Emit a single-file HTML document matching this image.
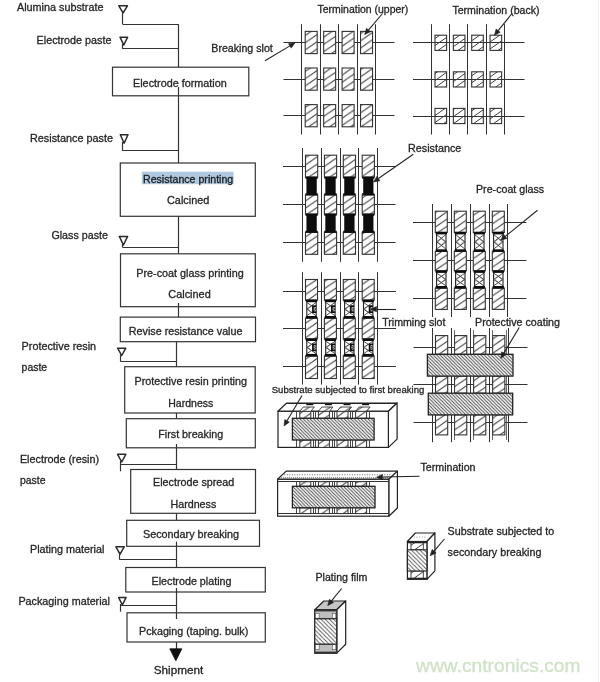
<!DOCTYPE html>
<html><head><meta charset="utf-8"><style>
html,body{margin:0;padding:0;background:#fff;}
body{width:600px;height:682px;overflow:hidden;}
svg{display:block;font-family:"Liberation Sans",sans-serif;}
</style></head><body>
<svg width="600" height="682" viewBox="0 0 600 682">
<rect width="600" height="682" fill="#fff"/>

<defs>
<pattern id="h" patternUnits="userSpaceOnUse" width="10.5" height="7.2">
<rect width="10.5" height="7.2" fill="#fff"/>
<path d="M-1.46,8.2 L11.96,-1 M-1.46,1 L1.46,-1 M9.04,8.2 L11.96,6.2" stroke="#404040" stroke-width="1"/>
</pattern>
<pattern id="hs" patternUnits="userSpaceOnUse" width="10" height="7">
<path d="M-1.43,8 L11.43,-1 M-1.43,1 L1.43,-1 M8.57,8 L11.43,6" stroke="#404040" stroke-width="1"/>
</pattern>
<pattern id="d" patternUnits="userSpaceOnUse" width="3.4" height="3.4">
<rect width="3.4" height="3.4" fill="#fff"/>
<path d="M-1,-1 L4.4,4.4 M2.4,-1 L4.4,1 M-1,2.4 L1,4.4" stroke="#444" stroke-width="0.95"/>
</pattern>
<filter id="gray" x="0" y="0" width="600" height="682" filterUnits="userSpaceOnUse"><feColorMatrix type="saturate" values="0"/><feGaussianBlur stdDeviation="0.4"/></filter>
<pattern id="d2" patternUnits="userSpaceOnUse" width="4.2" height="4.2">
<rect width="4.2" height="4.2" fill="#fff"/>
<path d="M-1,-1 L5.2,5.2 M3.2,-1 L5.2,1 M-1,3.2 L1,5.2" stroke="#555" stroke-width="0.9"/>
</pattern>
</defs>
<g filter="url(#gray)"><line x1="178.5" y1="24.2" x2="178.5" y2="67.2" stroke="#333" stroke-width="1.2"/><line x1="178.5" y1="95.8" x2="178.5" y2="163" stroke="#333" stroke-width="1.2"/><line x1="178.5" y1="216.3" x2="178.5" y2="253.7" stroke="#333" stroke-width="1.2"/><line x1="178.5" y1="306.7" x2="178.5" y2="317" stroke="#333" stroke-width="1.2"/><line x1="176.5" y1="341.7" x2="176.5" y2="366.7" stroke="#333" stroke-width="1.2"/><line x1="176.5" y1="413" x2="176.5" y2="418.7" stroke="#333" stroke-width="1.2"/><line x1="176.5" y1="447.8" x2="176.5" y2="469.5" stroke="#333" stroke-width="1.2"/><line x1="176.5" y1="513.3" x2="176.5" y2="520.3" stroke="#333" stroke-width="1.2"/><line x1="176.5" y1="546.3" x2="176.5" y2="567.5" stroke="#333" stroke-width="1.2"/><line x1="176.5" y1="592" x2="176.5" y2="612.8" stroke="#333" stroke-width="1.2"/><line x1="176.5" y1="642" x2="176.5" y2="649" stroke="#333" stroke-width="1.2"/><polygon points="169.8,648.8 181.9,648.8 175.85,660.8" fill="#111" stroke="#111" stroke-width="0.8" stroke-linejoin="round"/><rect x="112.5" y="67.2" width="136.3" height="28.6" fill="#fff" stroke="#333" stroke-width="1.2"/><rect x="120.3" y="163" width="135" height="53.3" fill="#fff" stroke="#333" stroke-width="1.2"/><rect x="120.5" y="253.8" width="134.8" height="52.9" fill="#fff" stroke="#333" stroke-width="1.2"/><rect x="120.3" y="317.1" width="135.2" height="24.6" fill="#fff" stroke="#333" stroke-width="1.2"/><rect x="124.7" y="366.7" width="130.5" height="46.3" fill="#fff" stroke="#333" stroke-width="1.2"/><rect x="126.3" y="418.7" width="129" height="29.1" fill="#fff" stroke="#333" stroke-width="1.2"/><rect x="130.7" y="469.5" width="124.8" height="43.8" fill="#fff" stroke="#333" stroke-width="1.2"/><rect x="126.7" y="520.3" width="132.8" height="26" fill="#fff" stroke="#333" stroke-width="1.2"/><rect x="125.8" y="567.5" width="139.5" height="24.5" fill="#fff" stroke="#333" stroke-width="1.2"/><rect x="127" y="612.8" width="138.3" height="29.2" fill="#fff" stroke="#333" stroke-width="1.2"/><line x1="178.5" y1="87" x2="178.5" y2="95.8" stroke="#333" stroke-width="1.2"/><line x1="178.5" y1="303" x2="178.5" y2="306.7" stroke="#333" stroke-width="1.2"/><line x1="176.5" y1="444" x2="176.5" y2="447.8" stroke="#333" stroke-width="1.2"/><line x1="176.5" y1="541.7" x2="176.5" y2="546.3" stroke="#333" stroke-width="1.2"/><line x1="176.5" y1="588" x2="176.5" y2="592" stroke="#333" stroke-width="1.2"/><line x1="176.5" y1="612.8" x2="176.5" y2="619" stroke="#333" stroke-width="1.2"/><polygon points="118.8,5.8 127.4,5.8 123.1,12.8" fill="none" stroke="#2a2a2a" stroke-width="1.5" stroke-linejoin="round"/><line x1="122.5" y1="12.8" x2="122.5" y2="24.2" stroke="#333" stroke-width="1.2"/><line x1="122.6" y1="24.5" x2="178.6" y2="24.5" stroke="#333" stroke-width="1.2"/><polygon points="120,37.2 127.6,37.2 123.8,45" fill="none" stroke="#2a2a2a" stroke-width="1.5" stroke-linejoin="round"/><line x1="122.5" y1="44" x2="122.5" y2="48.8" stroke="#333" stroke-width="1.2"/><line x1="122.6" y1="48.5" x2="178.6" y2="48.5" stroke="#333" stroke-width="1.2"/><polygon points="120.3,134.8 128,134.8 124.15,143.3" fill="none" stroke="#2a2a2a" stroke-width="1.5" stroke-linejoin="round"/><line x1="122.5" y1="142" x2="122.5" y2="150.5" stroke="#333" stroke-width="1.2"/><line x1="122" y1="150.5" x2="178.6" y2="150.5" stroke="#333" stroke-width="1.2"/><polygon points="119.3,236.4 127.6,236.4 123.45,245" fill="none" stroke="#2a2a2a" stroke-width="1.5" stroke-linejoin="round"/><line x1="122.5" y1="244" x2="122.5" y2="247.2" stroke="#333" stroke-width="1.2"/><line x1="122.5" y1="247.5" x2="178.6" y2="247.5" stroke="#333" stroke-width="1.2"/><polygon points="117.6,348.2 125.8,348.2 121.7,355.5" fill="none" stroke="#2a2a2a" stroke-width="1.5" stroke-linejoin="round"/><line x1="120.5" y1="354.5" x2="120.5" y2="361.2" stroke="#333" stroke-width="1.2"/><line x1="120.2" y1="361.5" x2="176.6" y2="361.5" stroke="#333" stroke-width="1.2"/><polygon points="117.6,454.3 125.8,454.3 121.7,462" fill="none" stroke="#2a2a2a" stroke-width="1.5" stroke-linejoin="round"/><line x1="120.5" y1="461" x2="120.5" y2="471.3" stroke="#333" stroke-width="1.2"/><line x1="120.4" y1="464.5" x2="176.6" y2="464.5" stroke="#333" stroke-width="1.2"/><polygon points="115.9,546.8 124.2,546.8 120.05,554.2" fill="none" stroke="#2a2a2a" stroke-width="1.5" stroke-linejoin="round"/><line x1="119.5" y1="553" x2="119.5" y2="559.7" stroke="#333" stroke-width="1.2"/><line x1="119.8" y1="559.5" x2="176.6" y2="559.5" stroke="#333" stroke-width="1.2"/><polygon points="118.7,597.6 126,597.6 122.35,605" fill="none" stroke="#2a2a2a" stroke-width="1.5" stroke-linejoin="round"/><line x1="120.5" y1="604" x2="120.5" y2="611.7" stroke="#333" stroke-width="1.2"/><line x1="120.6" y1="605.5" x2="176.6" y2="605.5" stroke="#333" stroke-width="1.2"/><text x="17" y="11" font-size="10.8" textLength="86.4" lengthAdjust="spacingAndGlyphs" fill="#262626" stroke="#262626" stroke-width="0.3">Alumina substrate</text><text x="36.6" y="44.4" font-size="10.8" textLength="74.8" lengthAdjust="spacingAndGlyphs" fill="#262626" stroke="#262626" stroke-width="0.3">Electrode paste</text><text x="30" y="142.4" font-size="10.8" textLength="83" lengthAdjust="spacingAndGlyphs" fill="#262626" stroke="#262626" stroke-width="0.3">Resistance paste</text><text x="51.4" y="238.6" font-size="10.8" textLength="56.6" lengthAdjust="spacingAndGlyphs" fill="#262626" stroke="#262626" stroke-width="0.3">Glass paste</text><text x="21.6" y="349.5" font-size="10.8" textLength="74.5" lengthAdjust="spacingAndGlyphs" fill="#262626" stroke="#262626" stroke-width="0.3">Protective resin</text><text x="21.6" y="371" font-size="10.8" textLength="25.6" lengthAdjust="spacingAndGlyphs" fill="#262626" stroke="#262626" stroke-width="0.3">paste</text><text x="19.9" y="463.1" font-size="10.8" textLength="79.2" lengthAdjust="spacingAndGlyphs" fill="#262626" stroke="#262626" stroke-width="0.3">Electrode (resin)</text><text x="19.9" y="484.2" font-size="10.8" textLength="25.6" lengthAdjust="spacingAndGlyphs" fill="#262626" stroke="#262626" stroke-width="0.3">paste</text><text x="30" y="553" font-size="10.8" textLength="74.4" lengthAdjust="spacingAndGlyphs" fill="#262626" stroke="#262626" stroke-width="0.3">Plating material</text><text x="18.4" y="604.6" font-size="10.8" textLength="91.6" lengthAdjust="spacingAndGlyphs" fill="#262626" stroke="#262626" stroke-width="0.3">Packaging material</text><text x="133" y="87" font-size="10.8" textLength="93.75" lengthAdjust="spacingAndGlyphs" fill="#262626" stroke="#262626" stroke-width="0.3">Electrode formation</text><text x="143" y="182.5" font-size="10.8" textLength="90.25" lengthAdjust="spacingAndGlyphs" fill="#262626" stroke="#262626" stroke-width="0.3">Resistance printing</text><text x="167" y="203.75" font-size="10.8" textLength="42.25" lengthAdjust="spacingAndGlyphs" fill="#262626" stroke="#262626" stroke-width="0.3">Calcined</text><text x="136.25" y="276.75" font-size="10.8" textLength="107.5" lengthAdjust="spacingAndGlyphs" fill="#262626" stroke="#262626" stroke-width="0.3">Pre-coat glass printing</text><text x="168.25" y="298.25" font-size="10.8" textLength="42.5" lengthAdjust="spacingAndGlyphs" fill="#262626" stroke="#262626" stroke-width="0.3">Calcined</text><text x="128.75" y="334.5" font-size="10.8" textLength="113.75" lengthAdjust="spacingAndGlyphs" fill="#262626" stroke="#262626" stroke-width="0.3">Revise resistance value</text><text x="134.5" y="385" font-size="10.8" textLength="112.5" lengthAdjust="spacingAndGlyphs" fill="#262626" stroke="#262626" stroke-width="0.3">Protective resin printing</text><text x="168.25" y="406.75" font-size="10.8" textLength="45" lengthAdjust="spacingAndGlyphs" fill="#262626" stroke="#262626" stroke-width="0.3">Hardness</text><text x="158.25" y="438" font-size="10.8" textLength="65" lengthAdjust="spacingAndGlyphs" fill="#262626" stroke="#262626" stroke-width="0.3">First breaking</text><text x="153" y="486.25" font-size="10.8" textLength="81.25" lengthAdjust="spacingAndGlyphs" fill="#262626" stroke="#262626" stroke-width="0.3">Electrode spread</text><text x="170.5" y="507.5" font-size="10.8" textLength="45.75" lengthAdjust="spacingAndGlyphs" fill="#262626" stroke="#262626" stroke-width="0.3">Hardness</text><text x="143" y="537.7" font-size="10.8" textLength="96" lengthAdjust="spacingAndGlyphs" fill="#262626" stroke="#262626" stroke-width="0.3">Secondary breaking</text><text x="151.5" y="584.8" font-size="10.8" textLength="80" lengthAdjust="spacingAndGlyphs" fill="#262626" stroke="#262626" stroke-width="0.3">Electrode plating</text><text x="139" y="635.2" font-size="10.8" textLength="109.3" lengthAdjust="spacingAndGlyphs" fill="#262626" stroke="#262626" stroke-width="0.3">Pckaging (taping. bulk)</text><text x="153.7" y="674.2" font-size="11" textLength="49.6" lengthAdjust="spacingAndGlyphs" fill="#262626" stroke="#262626" stroke-width="0.3">Shipment</text><line x1="301.5" y1="24.2" x2="301.5" y2="134.5" stroke="#333" stroke-width="1"/><line x1="320.5" y1="24.2" x2="320.5" y2="134.5" stroke="#333" stroke-width="1"/><line x1="338.5" y1="24.2" x2="338.5" y2="134.5" stroke="#333" stroke-width="1"/><line x1="357.5" y1="24.2" x2="357.5" y2="134.5" stroke="#333" stroke-width="1"/><line x1="375.5" y1="24.2" x2="375.5" y2="134.5" stroke="#333" stroke-width="1"/><line x1="283.5" y1="42.5" x2="394.5" y2="42.5" stroke="#333" stroke-width="1"/><line x1="283.5" y1="79.5" x2="394.5" y2="79.5" stroke="#333" stroke-width="1"/><line x1="283.5" y1="115.5" x2="394.5" y2="115.5" stroke="#333" stroke-width="1"/><rect x="305.2" y="31.4" width="12" height="22.2" fill="url(#h)" stroke="#333" stroke-width="1.1"/><rect x="305.2" y="68" width="12" height="22.2" fill="url(#h)" stroke="#333" stroke-width="1.1"/><rect x="305.2" y="104.6" width="12" height="22.2" fill="url(#h)" stroke="#333" stroke-width="1.1"/><rect x="323.65" y="31.4" width="12" height="22.2" fill="url(#h)" stroke="#333" stroke-width="1.1"/><rect x="323.65" y="68" width="12" height="22.2" fill="url(#h)" stroke="#333" stroke-width="1.1"/><rect x="323.65" y="104.6" width="12" height="22.2" fill="url(#h)" stroke="#333" stroke-width="1.1"/><rect x="342.1" y="31.4" width="12" height="22.2" fill="url(#h)" stroke="#333" stroke-width="1.1"/><rect x="342.1" y="68" width="12" height="22.2" fill="url(#h)" stroke="#333" stroke-width="1.1"/><rect x="342.1" y="104.6" width="12" height="22.2" fill="url(#h)" stroke="#333" stroke-width="1.1"/><rect x="360.55" y="31.4" width="12" height="22.2" fill="url(#h)" stroke="#333" stroke-width="1.1"/><rect x="360.55" y="68" width="12" height="22.2" fill="url(#h)" stroke="#333" stroke-width="1.1"/><rect x="360.55" y="104.6" width="12" height="22.2" fill="url(#h)" stroke="#333" stroke-width="1.1"/><line x1="431.5" y1="24.2" x2="431.5" y2="134.5" stroke="#333" stroke-width="1"/><line x1="449.5" y1="24.2" x2="449.5" y2="134.5" stroke="#333" stroke-width="1"/><line x1="467.5" y1="24.2" x2="467.5" y2="134.5" stroke="#333" stroke-width="1"/><line x1="486.5" y1="24.2" x2="486.5" y2="134.5" stroke="#333" stroke-width="1"/><line x1="504.5" y1="24.2" x2="504.5" y2="134.5" stroke="#333" stroke-width="1"/><line x1="413" y1="42.5" x2="524.5" y2="42.5" stroke="#333" stroke-width="1"/><line x1="413" y1="79.5" x2="524.5" y2="79.5" stroke="#333" stroke-width="1"/><line x1="413" y1="116.5" x2="524.5" y2="116.5" stroke="#333" stroke-width="1"/><rect x="435" y="35.2" width="11.6" height="15.2" fill="url(#hs)" stroke="#333" stroke-width="1.1"/><rect x="435" y="71.8" width="11.6" height="15.2" fill="url(#hs)" stroke="#333" stroke-width="1.1"/><rect x="435" y="108.4" width="11.6" height="15.2" fill="url(#hs)" stroke="#333" stroke-width="1.1"/><rect x="453.35" y="35.2" width="11.6" height="15.2" fill="url(#hs)" stroke="#333" stroke-width="1.1"/><rect x="453.35" y="71.8" width="11.6" height="15.2" fill="url(#hs)" stroke="#333" stroke-width="1.1"/><rect x="453.35" y="108.4" width="11.6" height="15.2" fill="url(#hs)" stroke="#333" stroke-width="1.1"/><rect x="471.7" y="35.2" width="11.6" height="15.2" fill="url(#hs)" stroke="#333" stroke-width="1.1"/><rect x="471.7" y="71.8" width="11.6" height="15.2" fill="url(#hs)" stroke="#333" stroke-width="1.1"/><rect x="471.7" y="108.4" width="11.6" height="15.2" fill="url(#hs)" stroke="#333" stroke-width="1.1"/><rect x="490.05" y="35.2" width="11.6" height="15.2" fill="url(#hs)" stroke="#333" stroke-width="1.1"/><rect x="490.05" y="71.8" width="11.6" height="15.2" fill="url(#hs)" stroke="#333" stroke-width="1.1"/><rect x="490.05" y="108.4" width="11.6" height="15.2" fill="url(#hs)" stroke="#333" stroke-width="1.1"/><line x1="302.5" y1="148" x2="302.5" y2="261.8" stroke="#333" stroke-width="1"/><line x1="321.5" y1="148" x2="321.5" y2="261.8" stroke="#333" stroke-width="1"/><line x1="340.5" y1="148" x2="340.5" y2="261.8" stroke="#333" stroke-width="1"/><line x1="358.5" y1="148" x2="358.5" y2="261.8" stroke="#333" stroke-width="1"/><line x1="377.5" y1="148" x2="377.5" y2="261.8" stroke="#333" stroke-width="1"/><line x1="283" y1="166.5" x2="395.5" y2="166.5" stroke="#333" stroke-width="1"/><line x1="283" y1="204.5" x2="395.5" y2="204.5" stroke="#333" stroke-width="1"/><line x1="283" y1="242.5" x2="395.5" y2="242.5" stroke="#333" stroke-width="1"/><rect x="305.5" y="155.2" width="12.2" height="21.8" fill="url(#h)" stroke="#333" stroke-width="1.1"/><rect x="305.5" y="195" width="12.2" height="19" fill="url(#h)" stroke="#333" stroke-width="1.1"/><rect x="305.5" y="232.4" width="12.2" height="21.9" fill="url(#h)" stroke="#333" stroke-width="1.1"/><path d="M305.8,177 h11.6 v1.5 h-1 v15 h1 v1.5 h-11.6 v-1.5 h1 v-15 h-1 z" fill="#0a0a0a" stroke="#0a0a0a" stroke-width="0.6"/><path d="M305.8,214 h11.6 v1.5 h-1 v15.4 h1 v1.5 h-11.6 v-1.5 h1 v-15.4 h-1 z" fill="#0a0a0a" stroke="#0a0a0a" stroke-width="0.6"/><rect x="324.4" y="155.2" width="12.2" height="21.8" fill="url(#h)" stroke="#333" stroke-width="1.1"/><rect x="324.4" y="195" width="12.2" height="19" fill="url(#h)" stroke="#333" stroke-width="1.1"/><rect x="324.4" y="232.4" width="12.2" height="21.9" fill="url(#h)" stroke="#333" stroke-width="1.1"/><path d="M324.7,177 h11.6 v1.5 h-1 v15 h1 v1.5 h-11.6 v-1.5 h1 v-15 h-1 z" fill="#0a0a0a" stroke="#0a0a0a" stroke-width="0.6"/><path d="M324.7,214 h11.6 v1.5 h-1 v15.4 h1 v1.5 h-11.6 v-1.5 h1 v-15.4 h-1 z" fill="#0a0a0a" stroke="#0a0a0a" stroke-width="0.6"/><rect x="343.3" y="155.2" width="12.2" height="21.8" fill="url(#h)" stroke="#333" stroke-width="1.1"/><rect x="343.3" y="195" width="12.2" height="19" fill="url(#h)" stroke="#333" stroke-width="1.1"/><rect x="343.3" y="232.4" width="12.2" height="21.9" fill="url(#h)" stroke="#333" stroke-width="1.1"/><path d="M343.6,177 h11.6 v1.5 h-1 v15 h1 v1.5 h-11.6 v-1.5 h1 v-15 h-1 z" fill="#0a0a0a" stroke="#0a0a0a" stroke-width="0.6"/><path d="M343.6,214 h11.6 v1.5 h-1 v15.4 h1 v1.5 h-11.6 v-1.5 h1 v-15.4 h-1 z" fill="#0a0a0a" stroke="#0a0a0a" stroke-width="0.6"/><rect x="362.2" y="155.2" width="12.2" height="21.8" fill="url(#h)" stroke="#333" stroke-width="1.1"/><rect x="362.2" y="195" width="12.2" height="19" fill="url(#h)" stroke="#333" stroke-width="1.1"/><rect x="362.2" y="232.4" width="12.2" height="21.9" fill="url(#h)" stroke="#333" stroke-width="1.1"/><path d="M362.5,177 h11.6 v1.5 h-1 v15 h1 v1.5 h-11.6 v-1.5 h1 v-15 h-1 z" fill="#0a0a0a" stroke="#0a0a0a" stroke-width="0.6"/><path d="M362.5,214 h11.6 v1.5 h-1 v15.4 h1 v1.5 h-11.6 v-1.5 h1 v-15.4 h-1 z" fill="#0a0a0a" stroke="#0a0a0a" stroke-width="0.6"/><line x1="432.5" y1="204" x2="432.5" y2="317" stroke="#333" stroke-width="1"/><line x1="451.5" y1="204" x2="451.5" y2="317" stroke="#333" stroke-width="1"/><line x1="470.5" y1="204" x2="470.5" y2="317" stroke="#333" stroke-width="1"/><line x1="489.5" y1="204" x2="489.5" y2="317" stroke="#333" stroke-width="1"/><line x1="507.5" y1="204" x2="507.5" y2="317" stroke="#333" stroke-width="1"/><line x1="413" y1="222.5" x2="526.4" y2="222.5" stroke="#333" stroke-width="1"/><line x1="413" y1="260.5" x2="526.4" y2="260.5" stroke="#333" stroke-width="1"/><line x1="413" y1="298.5" x2="526.4" y2="298.5" stroke="#333" stroke-width="1"/><rect x="435.3" y="211.2" width="12" height="21.2" fill="url(#h)" stroke="#333" stroke-width="1.1"/><rect x="435.3" y="251.3" width="12" height="19.6" fill="url(#h)" stroke="#333" stroke-width="1.1"/><rect x="435.3" y="288" width="12" height="21.4" fill="url(#h)" stroke="#333" stroke-width="1.1"/><rect x="436.6" y="232.4" width="9.4" height="18.9" fill="#fff" stroke="#222" stroke-width="1.1"/><path d="M436.6,234.6 L446,241.85 M446,234.6 L436.6,241.85" fill="none" stroke="#3a3a3a" stroke-width="0.9"/><path d="M436.6,241.85 L446,249.1 M446,241.85 L436.6,249.1" fill="none" stroke="#3a3a3a" stroke-width="0.9"/><path d="M441.3,238.85 L444.8,241.85 L441.3,244.85 L437.8,241.85 z" fill="none" stroke="#555" stroke-width="0.6"/><rect x="435.7" y="231.9" width="11.2" height="2.5" fill="#111" stroke="none" stroke-width="0"/><rect x="435.7" y="249.3" width="11.2" height="2.5" fill="#111" stroke="none" stroke-width="0"/><rect x="436.6" y="270.9" width="9.4" height="17.1" fill="#fff" stroke="#222" stroke-width="1.1"/><path d="M436.6,273.1 L446,279.45 M446,273.1 L436.6,279.45" fill="none" stroke="#3a3a3a" stroke-width="0.9"/><path d="M436.6,279.45 L446,285.8 M446,279.45 L436.6,285.8" fill="none" stroke="#3a3a3a" stroke-width="0.9"/><path d="M441.3,276.45 L444.8,279.45 L441.3,282.45 L437.8,279.45 z" fill="none" stroke="#555" stroke-width="0.6"/><rect x="435.7" y="270.4" width="11.2" height="2.5" fill="#111" stroke="none" stroke-width="0"/><rect x="435.7" y="286" width="11.2" height="2.5" fill="#111" stroke="none" stroke-width="0"/><rect x="454.3" y="211.2" width="12" height="21.2" fill="url(#h)" stroke="#333" stroke-width="1.1"/><rect x="454.3" y="251.3" width="12" height="19.6" fill="url(#h)" stroke="#333" stroke-width="1.1"/><rect x="454.3" y="288" width="12" height="21.4" fill="url(#h)" stroke="#333" stroke-width="1.1"/><rect x="455.6" y="232.4" width="9.4" height="18.9" fill="#fff" stroke="#222" stroke-width="1.1"/><path d="M455.6,234.6 L465,241.85 M465,234.6 L455.6,241.85" fill="none" stroke="#3a3a3a" stroke-width="0.9"/><path d="M455.6,241.85 L465,249.1 M465,241.85 L455.6,249.1" fill="none" stroke="#3a3a3a" stroke-width="0.9"/><path d="M460.3,238.85 L463.8,241.85 L460.3,244.85 L456.8,241.85 z" fill="none" stroke="#555" stroke-width="0.6"/><rect x="454.7" y="231.9" width="11.2" height="2.5" fill="#111" stroke="none" stroke-width="0"/><rect x="454.7" y="249.3" width="11.2" height="2.5" fill="#111" stroke="none" stroke-width="0"/><rect x="455.6" y="270.9" width="9.4" height="17.1" fill="#fff" stroke="#222" stroke-width="1.1"/><path d="M455.6,273.1 L465,279.45 M465,273.1 L455.6,279.45" fill="none" stroke="#3a3a3a" stroke-width="0.9"/><path d="M455.6,279.45 L465,285.8 M465,279.45 L455.6,285.8" fill="none" stroke="#3a3a3a" stroke-width="0.9"/><path d="M460.3,276.45 L463.8,279.45 L460.3,282.45 L456.8,279.45 z" fill="none" stroke="#555" stroke-width="0.6"/><rect x="454.7" y="270.4" width="11.2" height="2.5" fill="#111" stroke="none" stroke-width="0"/><rect x="454.7" y="286" width="11.2" height="2.5" fill="#111" stroke="none" stroke-width="0"/><rect x="473.3" y="211.2" width="12" height="21.2" fill="url(#h)" stroke="#333" stroke-width="1.1"/><rect x="473.3" y="251.3" width="12" height="19.6" fill="url(#h)" stroke="#333" stroke-width="1.1"/><rect x="473.3" y="288" width="12" height="21.4" fill="url(#h)" stroke="#333" stroke-width="1.1"/><rect x="474.6" y="232.4" width="9.4" height="18.9" fill="#fff" stroke="#222" stroke-width="1.1"/><path d="M474.6,234.6 L484,241.85 M484,234.6 L474.6,241.85" fill="none" stroke="#3a3a3a" stroke-width="0.9"/><path d="M474.6,241.85 L484,249.1 M484,241.85 L474.6,249.1" fill="none" stroke="#3a3a3a" stroke-width="0.9"/><path d="M479.3,238.85 L482.8,241.85 L479.3,244.85 L475.8,241.85 z" fill="none" stroke="#555" stroke-width="0.6"/><rect x="473.7" y="231.9" width="11.2" height="2.5" fill="#111" stroke="none" stroke-width="0"/><rect x="473.7" y="249.3" width="11.2" height="2.5" fill="#111" stroke="none" stroke-width="0"/><rect x="474.6" y="270.9" width="9.4" height="17.1" fill="#fff" stroke="#222" stroke-width="1.1"/><path d="M474.6,273.1 L484,279.45 M484,273.1 L474.6,279.45" fill="none" stroke="#3a3a3a" stroke-width="0.9"/><path d="M474.6,279.45 L484,285.8 M484,279.45 L474.6,285.8" fill="none" stroke="#3a3a3a" stroke-width="0.9"/><path d="M479.3,276.45 L482.8,279.45 L479.3,282.45 L475.8,279.45 z" fill="none" stroke="#555" stroke-width="0.6"/><rect x="473.7" y="270.4" width="11.2" height="2.5" fill="#111" stroke="none" stroke-width="0"/><rect x="473.7" y="286" width="11.2" height="2.5" fill="#111" stroke="none" stroke-width="0"/><rect x="492.3" y="211.2" width="12" height="21.2" fill="url(#h)" stroke="#333" stroke-width="1.1"/><rect x="492.3" y="251.3" width="12" height="19.6" fill="url(#h)" stroke="#333" stroke-width="1.1"/><rect x="492.3" y="288" width="12" height="21.4" fill="url(#h)" stroke="#333" stroke-width="1.1"/><rect x="493.6" y="232.4" width="9.4" height="18.9" fill="#fff" stroke="#222" stroke-width="1.1"/><path d="M493.6,234.6 L503,241.85 M503,234.6 L493.6,241.85" fill="none" stroke="#3a3a3a" stroke-width="0.9"/><path d="M493.6,241.85 L503,249.1 M503,241.85 L493.6,249.1" fill="none" stroke="#3a3a3a" stroke-width="0.9"/><path d="M498.3,238.85 L501.8,241.85 L498.3,244.85 L494.8,241.85 z" fill="none" stroke="#555" stroke-width="0.6"/><rect x="492.7" y="231.9" width="11.2" height="2.5" fill="#111" stroke="none" stroke-width="0"/><rect x="492.7" y="249.3" width="11.2" height="2.5" fill="#111" stroke="none" stroke-width="0"/><rect x="493.6" y="270.9" width="9.4" height="17.1" fill="#fff" stroke="#222" stroke-width="1.1"/><path d="M493.6,273.1 L503,279.45 M503,273.1 L493.6,279.45" fill="none" stroke="#3a3a3a" stroke-width="0.9"/><path d="M493.6,279.45 L503,285.8 M503,279.45 L493.6,285.8" fill="none" stroke="#3a3a3a" stroke-width="0.9"/><path d="M498.3,276.45 L501.8,279.45 L498.3,282.45 L494.8,279.45 z" fill="none" stroke="#555" stroke-width="0.6"/><rect x="492.7" y="270.4" width="11.2" height="2.5" fill="#111" stroke="none" stroke-width="0"/><rect x="492.7" y="286" width="11.2" height="2.5" fill="#111" stroke="none" stroke-width="0"/><line x1="302.5" y1="272.2" x2="302.5" y2="384.6" stroke="#333" stroke-width="1"/><line x1="321.5" y1="272.2" x2="321.5" y2="384.6" stroke="#333" stroke-width="1"/><line x1="340.5" y1="272.2" x2="340.5" y2="384.6" stroke="#333" stroke-width="1"/><line x1="358.5" y1="272.2" x2="358.5" y2="384.6" stroke="#333" stroke-width="1"/><line x1="377.5" y1="272.2" x2="377.5" y2="384.6" stroke="#333" stroke-width="1"/><line x1="283" y1="291.5" x2="396" y2="291.5" stroke="#333" stroke-width="1"/><line x1="283" y1="328.5" x2="396" y2="328.5" stroke="#333" stroke-width="1"/><line x1="283" y1="366.5" x2="396" y2="366.5" stroke="#333" stroke-width="1"/><rect x="305.5" y="279.5" width="12" height="20.7" fill="url(#h)" stroke="#333" stroke-width="1.1"/><rect x="305.5" y="318" width="12" height="21" fill="url(#h)" stroke="#333" stroke-width="1.1"/><rect x="305.5" y="355.9" width="12" height="22.6" fill="url(#h)" stroke="#333" stroke-width="1.1"/><rect x="306.8" y="300.2" width="9.4" height="17.8" fill="#fff" stroke="#222" stroke-width="1.1"/><path d="M306.8,302.4 L316.2,309.1 M316.2,302.4 L306.8,309.1" fill="none" stroke="#3a3a3a" stroke-width="0.9"/><path d="M306.8,309.1 L316.2,315.8 M316.2,309.1 L306.8,315.8" fill="none" stroke="#3a3a3a" stroke-width="0.9"/><path d="M311.5,306.1 L315,309.1 L311.5,312.1 L308,309.1 z" fill="none" stroke="#555" stroke-width="0.6"/><rect x="305.9" y="299.7" width="11.2" height="2.5" fill="#111" stroke="none" stroke-width="0"/><rect x="305.9" y="316" width="11.2" height="2.5" fill="#111" stroke="none" stroke-width="0"/><path d="M316.3,306.1 H312.9 V312.1 H316.3" fill="none" stroke="#111" stroke-width="1.7"/><rect x="306.8" y="339" width="9.4" height="16.9" fill="#fff" stroke="#222" stroke-width="1.1"/><path d="M306.8,341.2 L316.2,347.45 M316.2,341.2 L306.8,347.45" fill="none" stroke="#3a3a3a" stroke-width="0.9"/><path d="M306.8,347.45 L316.2,353.7 M316.2,347.45 L306.8,353.7" fill="none" stroke="#3a3a3a" stroke-width="0.9"/><path d="M311.5,344.45 L315,347.45 L311.5,350.45 L308,347.45 z" fill="none" stroke="#555" stroke-width="0.6"/><rect x="305.9" y="338.5" width="11.2" height="2.5" fill="#111" stroke="none" stroke-width="0"/><rect x="305.9" y="353.9" width="11.2" height="2.5" fill="#111" stroke="none" stroke-width="0"/><path d="M316.3,344.45 H312.9 V350.45 H316.3" fill="none" stroke="#111" stroke-width="1.7"/><rect x="324.4" y="279.5" width="12" height="20.7" fill="url(#h)" stroke="#333" stroke-width="1.1"/><rect x="324.4" y="318" width="12" height="21" fill="url(#h)" stroke="#333" stroke-width="1.1"/><rect x="324.4" y="355.9" width="12" height="22.6" fill="url(#h)" stroke="#333" stroke-width="1.1"/><rect x="325.7" y="300.2" width="9.4" height="17.8" fill="#fff" stroke="#222" stroke-width="1.1"/><path d="M325.7,302.4 L335.1,309.1 M335.1,302.4 L325.7,309.1" fill="none" stroke="#3a3a3a" stroke-width="0.9"/><path d="M325.7,309.1 L335.1,315.8 M335.1,309.1 L325.7,315.8" fill="none" stroke="#3a3a3a" stroke-width="0.9"/><path d="M330.4,306.1 L333.9,309.1 L330.4,312.1 L326.9,309.1 z" fill="none" stroke="#555" stroke-width="0.6"/><rect x="324.8" y="299.7" width="11.2" height="2.5" fill="#111" stroke="none" stroke-width="0"/><rect x="324.8" y="316" width="11.2" height="2.5" fill="#111" stroke="none" stroke-width="0"/><path d="M335.2,306.1 H331.8 V312.1 H335.2" fill="none" stroke="#111" stroke-width="1.7"/><rect x="325.7" y="339" width="9.4" height="16.9" fill="#fff" stroke="#222" stroke-width="1.1"/><path d="M325.7,341.2 L335.1,347.45 M335.1,341.2 L325.7,347.45" fill="none" stroke="#3a3a3a" stroke-width="0.9"/><path d="M325.7,347.45 L335.1,353.7 M335.1,347.45 L325.7,353.7" fill="none" stroke="#3a3a3a" stroke-width="0.9"/><path d="M330.4,344.45 L333.9,347.45 L330.4,350.45 L326.9,347.45 z" fill="none" stroke="#555" stroke-width="0.6"/><rect x="324.8" y="338.5" width="11.2" height="2.5" fill="#111" stroke="none" stroke-width="0"/><rect x="324.8" y="353.9" width="11.2" height="2.5" fill="#111" stroke="none" stroke-width="0"/><path d="M335.2,344.45 H331.8 V350.45 H335.2" fill="none" stroke="#111" stroke-width="1.7"/><rect x="343.3" y="279.5" width="12" height="20.7" fill="url(#h)" stroke="#333" stroke-width="1.1"/><rect x="343.3" y="318" width="12" height="21" fill="url(#h)" stroke="#333" stroke-width="1.1"/><rect x="343.3" y="355.9" width="12" height="22.6" fill="url(#h)" stroke="#333" stroke-width="1.1"/><rect x="344.6" y="300.2" width="9.4" height="17.8" fill="#fff" stroke="#222" stroke-width="1.1"/><path d="M344.6,302.4 L354,309.1 M354,302.4 L344.6,309.1" fill="none" stroke="#3a3a3a" stroke-width="0.9"/><path d="M344.6,309.1 L354,315.8 M354,309.1 L344.6,315.8" fill="none" stroke="#3a3a3a" stroke-width="0.9"/><path d="M349.3,306.1 L352.8,309.1 L349.3,312.1 L345.8,309.1 z" fill="none" stroke="#555" stroke-width="0.6"/><rect x="343.7" y="299.7" width="11.2" height="2.5" fill="#111" stroke="none" stroke-width="0"/><rect x="343.7" y="316" width="11.2" height="2.5" fill="#111" stroke="none" stroke-width="0"/><path d="M354.1,306.1 H350.7 V312.1 H354.1" fill="none" stroke="#111" stroke-width="1.7"/><rect x="344.6" y="339" width="9.4" height="16.9" fill="#fff" stroke="#222" stroke-width="1.1"/><path d="M344.6,341.2 L354,347.45 M354,341.2 L344.6,347.45" fill="none" stroke="#3a3a3a" stroke-width="0.9"/><path d="M344.6,347.45 L354,353.7 M354,347.45 L344.6,353.7" fill="none" stroke="#3a3a3a" stroke-width="0.9"/><path d="M349.3,344.45 L352.8,347.45 L349.3,350.45 L345.8,347.45 z" fill="none" stroke="#555" stroke-width="0.6"/><rect x="343.7" y="338.5" width="11.2" height="2.5" fill="#111" stroke="none" stroke-width="0"/><rect x="343.7" y="353.9" width="11.2" height="2.5" fill="#111" stroke="none" stroke-width="0"/><path d="M354.1,344.45 H350.7 V350.45 H354.1" fill="none" stroke="#111" stroke-width="1.7"/><rect x="362.2" y="279.5" width="12" height="20.7" fill="url(#h)" stroke="#333" stroke-width="1.1"/><rect x="362.2" y="318" width="12" height="21" fill="url(#h)" stroke="#333" stroke-width="1.1"/><rect x="362.2" y="355.9" width="12" height="22.6" fill="url(#h)" stroke="#333" stroke-width="1.1"/><rect x="363.5" y="300.2" width="9.4" height="17.8" fill="#fff" stroke="#222" stroke-width="1.1"/><path d="M363.5,302.4 L372.9,309.1 M372.9,302.4 L363.5,309.1" fill="none" stroke="#3a3a3a" stroke-width="0.9"/><path d="M363.5,309.1 L372.9,315.8 M372.9,309.1 L363.5,315.8" fill="none" stroke="#3a3a3a" stroke-width="0.9"/><path d="M368.2,306.1 L371.7,309.1 L368.2,312.1 L364.7,309.1 z" fill="none" stroke="#555" stroke-width="0.6"/><rect x="362.6" y="299.7" width="11.2" height="2.5" fill="#111" stroke="none" stroke-width="0"/><rect x="362.6" y="316" width="11.2" height="2.5" fill="#111" stroke="none" stroke-width="0"/><path d="M373,306.1 H369.6 V312.1 H373" fill="none" stroke="#111" stroke-width="1.7"/><rect x="363.5" y="339" width="9.4" height="16.9" fill="#fff" stroke="#222" stroke-width="1.1"/><path d="M363.5,341.2 L372.9,347.45 M372.9,341.2 L363.5,347.45" fill="none" stroke="#3a3a3a" stroke-width="0.9"/><path d="M363.5,347.45 L372.9,353.7 M372.9,347.45 L363.5,353.7" fill="none" stroke="#3a3a3a" stroke-width="0.9"/><path d="M368.2,344.45 L371.7,347.45 L368.2,350.45 L364.7,347.45 z" fill="none" stroke="#555" stroke-width="0.6"/><rect x="362.6" y="338.5" width="11.2" height="2.5" fill="#111" stroke="none" stroke-width="0"/><rect x="362.6" y="353.9" width="11.2" height="2.5" fill="#111" stroke="none" stroke-width="0"/><path d="M373,344.45 H369.6 V350.45 H373" fill="none" stroke="#111" stroke-width="1.7"/><line x1="432.5" y1="328" x2="432.5" y2="442.2" stroke="#333" stroke-width="1"/><line x1="451.5" y1="328" x2="451.5" y2="442.2" stroke="#333" stroke-width="1"/><line x1="470.5" y1="328" x2="470.5" y2="442.2" stroke="#333" stroke-width="1"/><line x1="489.5" y1="328" x2="489.5" y2="442.2" stroke="#333" stroke-width="1"/><line x1="508.5" y1="328" x2="508.5" y2="442.2" stroke="#333" stroke-width="1"/><line x1="413.5" y1="347.5" x2="527.5" y2="347.5" stroke="#333" stroke-width="1"/><line x1="413.5" y1="384.5" x2="527.5" y2="384.5" stroke="#333" stroke-width="1"/><line x1="413.5" y1="422.5" x2="527.5" y2="422.5" stroke="#333" stroke-width="1"/><rect x="435.5" y="335.6" width="12.2" height="18.7" fill="url(#h)" stroke="#333" stroke-width="1.1"/><rect x="435.5" y="376.1" width="12.2" height="17.1" fill="url(#h)" stroke="#333" stroke-width="1.1"/><rect x="435.5" y="414.8" width="12.2" height="20.1" fill="url(#h)" stroke="#333" stroke-width="1.1"/><rect x="454.55" y="335.6" width="12.2" height="18.7" fill="url(#h)" stroke="#333" stroke-width="1.1"/><rect x="454.55" y="376.1" width="12.2" height="17.1" fill="url(#h)" stroke="#333" stroke-width="1.1"/><rect x="454.55" y="414.8" width="12.2" height="20.1" fill="url(#h)" stroke="#333" stroke-width="1.1"/><rect x="473.6" y="335.6" width="12.2" height="18.7" fill="url(#h)" stroke="#333" stroke-width="1.1"/><rect x="473.6" y="376.1" width="12.2" height="17.1" fill="url(#h)" stroke="#333" stroke-width="1.1"/><rect x="473.6" y="414.8" width="12.2" height="20.1" fill="url(#h)" stroke="#333" stroke-width="1.1"/><rect x="492.65" y="335.6" width="12.2" height="18.7" fill="url(#h)" stroke="#333" stroke-width="1.1"/><rect x="492.65" y="376.1" width="12.2" height="17.1" fill="url(#h)" stroke="#333" stroke-width="1.1"/><rect x="492.65" y="414.8" width="12.2" height="20.1" fill="url(#h)" stroke="#333" stroke-width="1.1"/><line x1="454.5" y1="330" x2="454.5" y2="440" stroke="#444" stroke-width="0.8"/><line x1="473.5" y1="330" x2="473.5" y2="440" stroke="#444" stroke-width="0.8"/><line x1="492.5" y1="330" x2="492.5" y2="440" stroke="#444" stroke-width="0.8"/><line x1="506.5" y1="330" x2="506.5" y2="440" stroke="#444" stroke-width="0.8"/><rect x="427.4" y="354.3" width="85.6" height="21.8" fill="url(#d)" stroke="#222" stroke-width="1.3"/><rect x="428.3" y="393.2" width="84.4" height="21.7" fill="url(#d)" stroke="#222" stroke-width="1.3"/><text x="317.5" y="13.3" font-size="10.6" textLength="90.81" lengthAdjust="spacingAndGlyphs" fill="#262626" stroke="#262626" stroke-width="0.3">Termination (upper)</text><text x="452.4" y="13.6" font-size="10.6" textLength="87.2" lengthAdjust="spacingAndGlyphs" fill="#262626" stroke="#262626" stroke-width="0.3">Termination (back)</text><text x="211.3" y="51.7" font-size="10.6" textLength="61.5" lengthAdjust="spacingAndGlyphs" fill="#262626" stroke="#262626" stroke-width="0.3">Breaking slot</text><text x="408" y="152" font-size="10.6" textLength="53.3" lengthAdjust="spacingAndGlyphs" fill="#262626" stroke="#262626" stroke-width="0.3">Resistance</text><text x="476" y="193" font-size="10.6" textLength="68.2" lengthAdjust="spacingAndGlyphs" fill="#262626" stroke="#262626" stroke-width="0.3">Pre-coat glass</text><text x="382.2" y="326" font-size="10.6" textLength="63.3" lengthAdjust="spacingAndGlyphs" fill="#262626" stroke="#262626" stroke-width="0.3">Trimming slot</text><text x="475" y="326.3" font-size="10.6" textLength="85" lengthAdjust="spacingAndGlyphs" fill="#262626" stroke="#262626" stroke-width="0.3">Protective coating</text><text x="271.7" y="393.2" font-size="9.6" textLength="152.6" lengthAdjust="spacingAndGlyphs" fill="#262626" stroke="#262626" stroke-width="0.3">Substrate subjected to first breaking</text><text x="420.5" y="471.25" font-size="10.6" textLength="55" lengthAdjust="spacingAndGlyphs" fill="#262626" stroke="#262626" stroke-width="0.3">Termination</text><text x="447.6" y="535.2" font-size="10.6" textLength="106.6" lengthAdjust="spacingAndGlyphs" fill="#262626" stroke="#262626" stroke-width="0.3">Substrate subjected to</text><text x="447.6" y="555.75" font-size="10.6" textLength="93.8" lengthAdjust="spacingAndGlyphs" fill="#262626" stroke="#262626" stroke-width="0.3">secondary breaking</text><text x="315.5" y="580.75" font-size="10.6" textLength="51.9" lengthAdjust="spacingAndGlyphs" fill="#262626" stroke="#262626" stroke-width="0.3">Plating film</text><line x1="265" y1="60.8" x2="289.86" y2="45.89" stroke="#222" stroke-width="1.1"/><polygon points="295,42.8 291.19,48.12 288.52,43.66" fill="#222" stroke="#222" stroke-width="0.6" stroke-linejoin="round"/><line x1="382.5" y1="13.5" x2="368.48" y2="30.02" stroke="#222" stroke-width="1.1"/><polygon points="364.6,34.6 366.5,28.34 370.46,31.71" fill="#222" stroke="#222" stroke-width="0.6" stroke-linejoin="round"/><line x1="512" y1="13.5" x2="498.17" y2="30.63" stroke="#222" stroke-width="1.1"/><polygon points="494.4,35.3 496.15,29 500.19,32.26" fill="#222" stroke="#222" stroke-width="0.6" stroke-linejoin="round"/><line x1="413.3" y1="154.2" x2="378.42" y2="178.56" stroke="#222" stroke-width="1.1"/><polygon points="373.5,182 376.93,176.43 379.91,180.7" fill="#222" stroke="#222" stroke-width="0.6" stroke-linejoin="round"/><line x1="537.5" y1="210.2" x2="505.35" y2="236.41" stroke="#222" stroke-width="1.1"/><polygon points="500.7,240.2 503.71,234.39 506.99,238.42" fill="#222" stroke="#222" stroke-width="0.6" stroke-linejoin="round"/><line x1="396" y1="309.5" x2="376.5" y2="309.5" stroke="#222" stroke-width="1.1"/><polygon points="370.5,309.2 376.5,306.6 376.5,311.8" fill="#222" stroke="#222" stroke-width="0.6" stroke-linejoin="round"/><line x1="519.2" y1="327.5" x2="503.88" y2="353.15" stroke="#222" stroke-width="1.1"/><polygon points="500.8,358.3 501.65,351.82 506.11,354.48" fill="#222" stroke="#222" stroke-width="0.6" stroke-linejoin="round"/><polygon points="278,411.3 286.7,403 397.1,403 388.4,411.3" fill="#fff" stroke="#222" stroke-width="1.2" stroke-linejoin="round"/><polygon points="388.4,411.3 397.1,403 397.1,439.1 388.4,447.4" fill="#fff" stroke="#222" stroke-width="1.2" stroke-linejoin="round"/><rect x="278" y="411.3" width="110.4" height="36.1" fill="#fff" stroke="#222" stroke-width="1.2"/><rect x="299.8" y="411.3" width="11" height="7" fill="url(#h)" stroke="#333" stroke-width="1"/><rect x="299.8" y="440" width="11" height="7.4" fill="url(#h)" stroke="#333" stroke-width="1"/><line x1="296.5" y1="411.3" x2="296.5" y2="447.4" stroke="#333" stroke-width="0.9"/><line x1="313.5" y1="411.3" x2="313.5" y2="447.4" stroke="#333" stroke-width="0.9"/><polygon points="299.8,411.3 303.3,407 314.3,407 310.8,411.3" fill="url(#h)" stroke="#333" stroke-width="0.9" stroke-linejoin="round"/><line x1="306.3" y1="404.3" x2="313.3" y2="404.3" stroke="#111" stroke-width="1.8"/><rect x="318.4" y="411.3" width="11" height="7" fill="url(#h)" stroke="#333" stroke-width="1"/><rect x="318.4" y="440" width="11" height="7.4" fill="url(#h)" stroke="#333" stroke-width="1"/><line x1="315.5" y1="411.3" x2="315.5" y2="447.4" stroke="#333" stroke-width="0.9"/><line x1="332.5" y1="411.3" x2="332.5" y2="447.4" stroke="#333" stroke-width="0.9"/><polygon points="318.4,411.3 321.9,407 332.9,407 329.4,411.3" fill="url(#h)" stroke="#333" stroke-width="0.9" stroke-linejoin="round"/><line x1="324.9" y1="404.3" x2="331.9" y2="404.3" stroke="#111" stroke-width="1.8"/><rect x="337" y="411.3" width="11" height="7" fill="url(#h)" stroke="#333" stroke-width="1"/><rect x="337" y="440" width="11" height="7.4" fill="url(#h)" stroke="#333" stroke-width="1"/><line x1="334.5" y1="411.3" x2="334.5" y2="447.4" stroke="#333" stroke-width="0.9"/><line x1="350.5" y1="411.3" x2="350.5" y2="447.4" stroke="#333" stroke-width="0.9"/><polygon points="337,411.3 340.5,407 351.5,407 348,411.3" fill="url(#h)" stroke="#333" stroke-width="0.9" stroke-linejoin="round"/><line x1="343.5" y1="404.3" x2="350.5" y2="404.3" stroke="#111" stroke-width="1.8"/><rect x="355.6" y="411.3" width="11" height="7" fill="url(#h)" stroke="#333" stroke-width="1"/><rect x="355.6" y="440" width="11" height="7.4" fill="url(#h)" stroke="#333" stroke-width="1"/><line x1="352.5" y1="411.3" x2="352.5" y2="447.4" stroke="#333" stroke-width="0.9"/><line x1="369.5" y1="411.3" x2="369.5" y2="447.4" stroke="#333" stroke-width="0.9"/><polygon points="355.6,411.3 359.1,407 370.1,407 366.6,411.3" fill="url(#h)" stroke="#333" stroke-width="0.9" stroke-linejoin="round"/><line x1="362.1" y1="404.3" x2="369.1" y2="404.3" stroke="#111" stroke-width="1.8"/><line x1="287" y1="403.5" x2="396" y2="403.5" stroke="#222" stroke-width="1.2"/><rect x="292.4" y="418.3" width="81.7" height="21.7" fill="url(#d)" stroke="#222" stroke-width="1.3"/><line x1="302" y1="395.5" x2="287.05" y2="420.83" stroke="#222" stroke-width="1.1"/><polygon points="284,426 284.81,419.51 289.29,422.15" fill="#222" stroke="#222" stroke-width="0.6" stroke-linejoin="round"/><polygon points="277.6,479.3 286.2,471.1 397.4,471.1 388.8,479.3" fill="#fff" stroke="#222" stroke-width="1.2" stroke-linejoin="round"/><polygon points="388.8,479.3 397.4,471.1 397.4,508 388.8,516.2" fill="#fff" stroke="#222" stroke-width="1.2" stroke-linejoin="round"/><rect x="277.6" y="479.3" width="111.2" height="36.9" fill="#fff" stroke="#222" stroke-width="1.2"/><circle cx="284.82" cy="474.8" r="0.55" fill="#4a4a4a"/><circle cx="287.32" cy="474.8" r="0.55" fill="#4a4a4a"/><circle cx="289.82" cy="474.8" r="0.55" fill="#4a4a4a"/><circle cx="292.32" cy="474.8" r="0.55" fill="#4a4a4a"/><circle cx="294.82" cy="474.8" r="0.55" fill="#4a4a4a"/><circle cx="297.32" cy="474.8" r="0.55" fill="#4a4a4a"/><circle cx="299.82" cy="474.8" r="0.55" fill="#4a4a4a"/><circle cx="302.32" cy="474.8" r="0.55" fill="#4a4a4a"/><circle cx="304.82" cy="474.8" r="0.55" fill="#4a4a4a"/><circle cx="307.32" cy="474.8" r="0.55" fill="#4a4a4a"/><circle cx="309.82" cy="474.8" r="0.55" fill="#4a4a4a"/><circle cx="312.32" cy="474.8" r="0.55" fill="#4a4a4a"/><circle cx="314.82" cy="474.8" r="0.55" fill="#4a4a4a"/><circle cx="317.32" cy="474.8" r="0.55" fill="#4a4a4a"/><circle cx="319.82" cy="474.8" r="0.55" fill="#4a4a4a"/><circle cx="322.32" cy="474.8" r="0.55" fill="#4a4a4a"/><circle cx="324.82" cy="474.8" r="0.55" fill="#4a4a4a"/><circle cx="327.32" cy="474.8" r="0.55" fill="#4a4a4a"/><circle cx="329.82" cy="474.8" r="0.55" fill="#4a4a4a"/><circle cx="332.32" cy="474.8" r="0.55" fill="#4a4a4a"/><circle cx="334.82" cy="474.8" r="0.55" fill="#4a4a4a"/><circle cx="337.32" cy="474.8" r="0.55" fill="#4a4a4a"/><circle cx="339.82" cy="474.8" r="0.55" fill="#4a4a4a"/><circle cx="342.32" cy="474.8" r="0.55" fill="#4a4a4a"/><circle cx="344.82" cy="474.8" r="0.55" fill="#4a4a4a"/><circle cx="347.32" cy="474.8" r="0.55" fill="#4a4a4a"/><circle cx="349.82" cy="474.8" r="0.55" fill="#4a4a4a"/><circle cx="352.32" cy="474.8" r="0.55" fill="#4a4a4a"/><circle cx="354.82" cy="474.8" r="0.55" fill="#4a4a4a"/><circle cx="357.32" cy="474.8" r="0.55" fill="#4a4a4a"/><circle cx="359.82" cy="474.8" r="0.55" fill="#4a4a4a"/><circle cx="362.32" cy="474.8" r="0.55" fill="#4a4a4a"/><circle cx="364.82" cy="474.8" r="0.55" fill="#4a4a4a"/><circle cx="367.32" cy="474.8" r="0.55" fill="#4a4a4a"/><circle cx="369.82" cy="474.8" r="0.55" fill="#4a4a4a"/><circle cx="372.32" cy="474.8" r="0.55" fill="#4a4a4a"/><circle cx="374.82" cy="474.8" r="0.55" fill="#4a4a4a"/><circle cx="377.32" cy="474.8" r="0.55" fill="#4a4a4a"/><circle cx="379.82" cy="474.8" r="0.55" fill="#4a4a4a"/><circle cx="382.32" cy="474.8" r="0.55" fill="#4a4a4a"/><circle cx="384.82" cy="474.8" r="0.55" fill="#4a4a4a"/><circle cx="387.32" cy="474.8" r="0.55" fill="#4a4a4a"/><circle cx="389.82" cy="474.8" r="0.55" fill="#4a4a4a"/><circle cx="281.67" cy="477.8" r="0.6" fill="#4a4a4a"/><circle cx="283.67" cy="477.8" r="0.6" fill="#4a4a4a"/><circle cx="285.67" cy="477.8" r="0.6" fill="#4a4a4a"/><circle cx="287.67" cy="477.8" r="0.6" fill="#4a4a4a"/><circle cx="289.67" cy="477.8" r="0.6" fill="#4a4a4a"/><circle cx="291.67" cy="477.8" r="0.6" fill="#4a4a4a"/><circle cx="293.67" cy="477.8" r="0.6" fill="#4a4a4a"/><circle cx="295.67" cy="477.8" r="0.6" fill="#4a4a4a"/><circle cx="297.67" cy="477.8" r="0.6" fill="#4a4a4a"/><circle cx="299.67" cy="477.8" r="0.6" fill="#4a4a4a"/><circle cx="301.67" cy="477.8" r="0.6" fill="#4a4a4a"/><circle cx="303.67" cy="477.8" r="0.6" fill="#4a4a4a"/><circle cx="305.67" cy="477.8" r="0.6" fill="#4a4a4a"/><circle cx="307.67" cy="477.8" r="0.6" fill="#4a4a4a"/><circle cx="309.67" cy="477.8" r="0.6" fill="#4a4a4a"/><circle cx="311.67" cy="477.8" r="0.6" fill="#4a4a4a"/><circle cx="313.67" cy="477.8" r="0.6" fill="#4a4a4a"/><circle cx="315.67" cy="477.8" r="0.6" fill="#4a4a4a"/><circle cx="317.67" cy="477.8" r="0.6" fill="#4a4a4a"/><circle cx="319.67" cy="477.8" r="0.6" fill="#4a4a4a"/><circle cx="321.67" cy="477.8" r="0.6" fill="#4a4a4a"/><circle cx="323.67" cy="477.8" r="0.6" fill="#4a4a4a"/><circle cx="325.67" cy="477.8" r="0.6" fill="#4a4a4a"/><circle cx="327.67" cy="477.8" r="0.6" fill="#4a4a4a"/><circle cx="329.67" cy="477.8" r="0.6" fill="#4a4a4a"/><circle cx="331.67" cy="477.8" r="0.6" fill="#4a4a4a"/><circle cx="333.67" cy="477.8" r="0.6" fill="#4a4a4a"/><circle cx="335.67" cy="477.8" r="0.6" fill="#4a4a4a"/><circle cx="337.67" cy="477.8" r="0.6" fill="#4a4a4a"/><circle cx="339.67" cy="477.8" r="0.6" fill="#4a4a4a"/><circle cx="341.67" cy="477.8" r="0.6" fill="#4a4a4a"/><circle cx="343.67" cy="477.8" r="0.6" fill="#4a4a4a"/><circle cx="345.67" cy="477.8" r="0.6" fill="#4a4a4a"/><circle cx="347.67" cy="477.8" r="0.6" fill="#4a4a4a"/><circle cx="349.67" cy="477.8" r="0.6" fill="#4a4a4a"/><circle cx="351.67" cy="477.8" r="0.6" fill="#4a4a4a"/><circle cx="353.67" cy="477.8" r="0.6" fill="#4a4a4a"/><circle cx="355.67" cy="477.8" r="0.6" fill="#4a4a4a"/><circle cx="357.67" cy="477.8" r="0.6" fill="#4a4a4a"/><circle cx="359.67" cy="477.8" r="0.6" fill="#4a4a4a"/><circle cx="361.67" cy="477.8" r="0.6" fill="#4a4a4a"/><circle cx="363.67" cy="477.8" r="0.6" fill="#4a4a4a"/><circle cx="365.67" cy="477.8" r="0.6" fill="#4a4a4a"/><circle cx="367.67" cy="477.8" r="0.6" fill="#4a4a4a"/><circle cx="369.67" cy="477.8" r="0.6" fill="#4a4a4a"/><circle cx="371.67" cy="477.8" r="0.6" fill="#4a4a4a"/><circle cx="373.67" cy="477.8" r="0.6" fill="#4a4a4a"/><circle cx="375.67" cy="477.8" r="0.6" fill="#4a4a4a"/><circle cx="377.67" cy="477.8" r="0.6" fill="#4a4a4a"/><circle cx="379.67" cy="477.8" r="0.6" fill="#4a4a4a"/><circle cx="381.67" cy="477.8" r="0.6" fill="#4a4a4a"/><circle cx="383.67" cy="477.8" r="0.6" fill="#4a4a4a"/><circle cx="385.67" cy="477.8" r="0.6" fill="#4a4a4a"/><circle cx="387.67" cy="477.8" r="0.6" fill="#4a4a4a"/><line x1="277.6" y1="481.5" x2="388.8" y2="481.5" stroke="#333" stroke-width="1"/><line x1="277.6" y1="513.5" x2="388.8" y2="513.5" stroke="#333" stroke-width="1"/><rect x="299.8" y="481.7" width="11" height="4.6" fill="url(#h)" stroke="#333" stroke-width="1"/><rect x="299.8" y="507.8" width="11" height="5.8" fill="url(#h)" stroke="#333" stroke-width="1"/><line x1="296.5" y1="481.7" x2="296.5" y2="513.6" stroke="#333" stroke-width="0.9"/><line x1="313.5" y1="481.7" x2="313.5" y2="513.6" stroke="#333" stroke-width="0.9"/><rect x="318.4" y="481.7" width="11" height="4.6" fill="url(#h)" stroke="#333" stroke-width="1"/><rect x="318.4" y="507.8" width="11" height="5.8" fill="url(#h)" stroke="#333" stroke-width="1"/><line x1="315.5" y1="481.7" x2="315.5" y2="513.6" stroke="#333" stroke-width="0.9"/><line x1="332.5" y1="481.7" x2="332.5" y2="513.6" stroke="#333" stroke-width="0.9"/><rect x="337" y="481.7" width="11" height="4.6" fill="url(#h)" stroke="#333" stroke-width="1"/><rect x="337" y="507.8" width="11" height="5.8" fill="url(#h)" stroke="#333" stroke-width="1"/><line x1="334.5" y1="481.7" x2="334.5" y2="513.6" stroke="#333" stroke-width="0.9"/><line x1="350.5" y1="481.7" x2="350.5" y2="513.6" stroke="#333" stroke-width="0.9"/><rect x="355.6" y="481.7" width="11" height="4.6" fill="url(#h)" stroke="#333" stroke-width="1"/><rect x="355.6" y="507.8" width="11" height="5.8" fill="url(#h)" stroke="#333" stroke-width="1"/><line x1="352.5" y1="481.7" x2="352.5" y2="513.6" stroke="#333" stroke-width="0.9"/><line x1="369.5" y1="481.7" x2="369.5" y2="513.6" stroke="#333" stroke-width="0.9"/><rect x="292.4" y="486.3" width="82.6" height="21.5" fill="url(#d)" stroke="#222" stroke-width="1.3"/><line x1="419.5" y1="476.3" x2="382.5" y2="477.07" stroke="#222" stroke-width="1.1"/><polygon points="376.5,477.2 382.44,474.48 382.55,479.67" fill="#222" stroke="#222" stroke-width="0.6" stroke-linejoin="round"/><polygon points="407.4,541.5 415.4,533 434.9,533 426.9,541.5" fill="#fff" stroke="#222" stroke-width="1.2" stroke-linejoin="round"/><polygon points="426.9,541.5 434.9,533 434.9,570.8 426.9,579.3" fill="#fff" stroke="#222" stroke-width="1.2" stroke-linejoin="round"/><rect x="407.4" y="541.5" width="19.5" height="37.8" fill="#fff" stroke="#222" stroke-width="1.2"/><rect x="411" y="542.1" width="12.3" height="7.7" fill="url(#hs)" stroke="#333" stroke-width="0.9"/><rect x="411" y="571" width="12.3" height="7.7" fill="url(#hs)" stroke="#333" stroke-width="0.9"/><rect x="407.4" y="549.8" width="19.5" height="21.2" fill="url(#d2)" stroke="#222" stroke-width="1.1"/><line x1="407.4" y1="542.5" x2="426.9" y2="542.5" stroke="#222" stroke-width="1.6"/><line x1="407.4" y1="578.5" x2="426.9" y2="578.5" stroke="#222" stroke-width="1.6"/><circle cx="414.4" cy="537" r="0.5" fill="#777"/><circle cx="417" cy="537" r="0.5" fill="#777"/><circle cx="419.6" cy="537" r="0.5" fill="#777"/><circle cx="422.2" cy="537" r="0.5" fill="#777"/><circle cx="424.8" cy="537" r="0.5" fill="#777"/><line x1="444.4" y1="539" x2="434.07" y2="551.22" stroke="#222" stroke-width="1.1"/><polygon points="430.2,555.8 432.09,549.54 436.06,552.9" fill="#222" stroke="#222" stroke-width="0.6" stroke-linejoin="round"/><polygon points="314.8,609.8 323.8,601 345.7,601 336.7,609.8" fill="#c6c6c6" stroke="#222" stroke-width="1.2" stroke-linejoin="round"/><polygon points="336.7,609.8 345.7,601 345.7,644.3 336.7,653.1" fill="#fff" stroke="#222" stroke-width="1.2" stroke-linejoin="round"/><rect x="314.8" y="609.8" width="21.9" height="43.3" fill="#fff" stroke="#222" stroke-width="1.2"/><rect x="314.8" y="609.8" width="21.9" height="9" fill="#bebebe" stroke="#222" stroke-width="1"/><rect x="314.8" y="644.1" width="21.9" height="9" fill="#bebebe" stroke="#222" stroke-width="1"/><rect x="315.7" y="613.4" width="3.4" height="4.8" fill="#fff" stroke="#555" stroke-width="0.6"/><rect x="332.4" y="613.4" width="3.4" height="4.8" fill="#fff" stroke="#555" stroke-width="0.6"/><rect x="315.7" y="644.7" width="3.4" height="5" fill="#fff" stroke="#555" stroke-width="0.6"/><rect x="332.4" y="644.7" width="3.4" height="5" fill="#fff" stroke="#555" stroke-width="0.6"/><rect x="314.8" y="618.8" width="21.9" height="25.3" fill="url(#d2)" stroke="#222" stroke-width="1.1"/><line x1="314.8" y1="610.5" x2="336.7" y2="610.5" stroke="#333" stroke-width="1.8"/><line x1="314.8" y1="652.5" x2="336.7" y2="652.5" stroke="#333" stroke-width="1.8"/><line x1="341.6" y1="588.5" x2="331.48" y2="600.94" stroke="#222" stroke-width="1.1"/><polygon points="327.7,605.6 329.47,599.3 333.5,602.58" fill="#222" stroke="#222" stroke-width="0.6" stroke-linejoin="round"/><line x1="598.5" y1="0" x2="598.5" y2="682" stroke="#efefef" stroke-width="1"/></g><text x="416.04" y="671.9" font-size="19" textLength="164.56" lengthAdjust="spacingAndGlyphs" fill="#d0e2c8" stroke="#d0e2c8" stroke-width="0.3">www.cntronics.com</text><rect x="141.8" y="171.7" width="91.8" height="12.5" fill="#b1c9e0" style="mix-blend-mode:multiply"/>
</svg>
</body></html>
